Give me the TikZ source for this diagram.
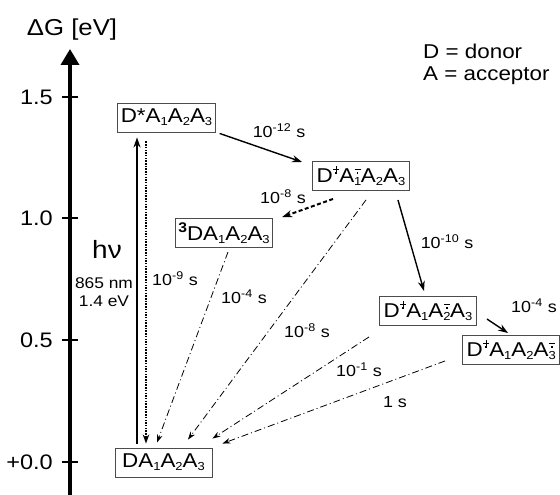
\documentclass[tikz,border=0pt]{standalone}
\usepackage{fontspec}
\setmainfont{Liberation Sans}[FakeStretch=1.12]
\usetikzlibrary{arrows.meta,calc}
\newcommand\sub[1]{\raisebox{-0.28ex}{\scalebox{0.58}{#1}}}
\newcommand\plusr{\makebox[0pt]{\rule{0.3em}{0.055em}}\makebox[0pt]{\rule[-0.12em]{0.055em}{0.3em}}}
\newcommand\minusr{\makebox[0pt]{\rule{0.3em}{0.055em}}}
\newcommand\radsym[1]{\makebox[0.32em]{\makebox[0pt]{\raisebox{0.2em}{#1}}\makebox[0pt]{\rule{0.085em}{0.085em}}}}
\newcommand\rad[1]{\raisebox{0.45em}{\radsym{#1}}}
\newcommand\subsup[2]{\makebox[0.34em][l]{\raisebox{-0.28ex}{\scalebox{0.58}{#1}}}\hspace*{-0.34em}\makebox[0.34em]{\raisebox{0.45em}{\radsym{#2}}}}
\begin{document}
\begin{tikzpicture}[x=1pt,y=-1pt,
  state/.style={draw=black!70, line width=0.9pt, inner xsep=3pt, inner ysep=0pt,
    minimum height=29pt, minimum width=97pt, font=\fontsize{20}{22}\selectfont},
  lbl/.style={inner sep=0pt, font=\fontsize{16}{18}\selectfont},
  ticklbl/.style={inner sep=0pt, anchor=east, font=\fontsize{21}{23}\selectfont},
  axisline/.style={line width=3.6pt, -{Triangle[width=18pt,length=16pt]}},
  tickline/.style={line width=2pt},
  solidarr/.style={line width=1.4pt, -{Stealth[length=10pt,width=7pt]}},
  dotarr/.style={line width=2pt, dash pattern=on 1.5pt off 1.2pt, -{Stealth[length=9pt,width=6.5pt]}},
  dasharr/.style={line width=2pt, dash pattern=on 4pt off 2.5pt, -{Stealth[length=10pt,width=7pt]}},
  dotdash/.style={line width=0.8pt, dash pattern=on 7pt off 3pt on 1pt off 3pt, -{Stealth[length=8pt,width=5.5pt]}}
]
\useasboundingbox (0,0) rectangle (560,495);

% axis
\coordinate (axbot) at (70,495);
\coordinate (axtop) at (70,49);
\draw[axisline] (axbot) -- (axtop);
\node[inner sep=0pt, font=\fontsize{23}{25}\selectfont] (axlabel) at (72,30) {ΔG [eV]};
\foreach \yy/\tx/\nm in {97/1.5/t15, 218/1.0/t10, 340/0.5/t05, 462/+0.0/t00}{
  \draw[tickline] (62,\yy) -- (78,\yy);
  \node[ticklbl] (\nm) at (53,\yy) {\tx};
}

% legend
\node[inner sep=0pt, anchor=west, font=\fontsize{20}{22}\selectfont] (leg1) at (423,51) {D = donor};
\node[inner sep=0pt, anchor=west, font=\fontsize{20}{22}\selectfont] (leg2) at (423,76) {A = acceptor};

% states
\node[state] (DS) at (166.5,117.5) {D*A\sub{1}A\sub{2}A\sub{3}};
\node[state] (DA1m) at (361,176) {D\rad{\plusr}A\subsup{1}{\minusr}A\sub{2}A\sub{3}};
\node[state] (T) at (224,233) {\raisebox{0.75ex}{\scalebox{0.7}{\textbf{3}}}DA\sub{1}A\sub{2}A\sub{3}};
\node[state] (DA2m) at (428,311) {D\rad{\plusr}A\sub{1}A\subsup{2}{\minusr}A\sub{3}};
\node[state] (DA3m) at (511,350) {D\rad{\plusr}A\sub{1}A\sub{2}A\subsup{3}{\minusr}};
\node[state] (GS) at (163.5,462.5) {DA\sub{1}A\sub{2}A\sub{3}};

% excitation and labels
\node[inner sep=0pt, font=\fontsize{25}{27}\selectfont] (hv) at (107,249) {hν};
\node[inner sep=0pt, align=center, font=\fontsize{15.5}{18}\selectfont] (ex) at (104,292) {865 nm\\1.4 eV};

\draw[solidarr] ($(GS.north)+(-26.5,-4)$) -- ($(DS.south)+(-29.5,5)$);
\draw[dotarr] ($(DS.south)+(-20.5,9)$) -- ($(GS.north)+(-17.5,-4)$);

\draw[solidarr] ($(DS.south east)+(4,1)$) -- ($(DA1m.west)+(-10,-14)$);
\draw[dasharr] ($(DA1m.south west)+(21,8)$) -- ($(T.north east)+(9,-1)$);
\draw[solidarr] ($(DA1m.south east)+(-12,9)$) -- ($(DA2m.north)+(-4,-5)$);
\draw[solidarr] ($(DA2m.east)+(10,8)$) -- ($(DA3m.north west)+(46,-2)$);

\draw[dotdash] ($(T.south)+(4,4)$) -- ($(GS.north)+(-6.5,-5)$);
\draw[dotdash] ($(DA1m.south)+(5,9)$) -- ($(GS.north)+(24.5,-8)$);
\draw[dotdash] ($(DA2m.south west)+(-10,11)$) -- ($(GS.north east)+(0,-9)$);
\draw[dotdash] ($(DA3m.south west)+(-17,-4)$) -- ($(GS.north east)+(10,-4)$);

% time constants
\node[lbl] (k12) at (279,131) {10\textsuperscript{-12} s};
\node[lbl] (k8a) at (283,197) {10\textsuperscript{-8} s};
\node[lbl] (k10) at (447,242) {10\textsuperscript{-10} s};
\node[lbl] (k9) at (175,279) {10\textsuperscript{-9} s};
\node[lbl] (k4a) at (244,297) {10\textsuperscript{-4} s};
\node[lbl] (k8b) at (307,331) {10\textsuperscript{-8} s};
\node[lbl] (k1) at (359,370) {10\textsuperscript{-1} s};
\node[lbl] (k0) at (395,402) {1 s};
\node[lbl] (k4b) at (534,306) {10\textsuperscript{-4} s};
\end{tikzpicture}
\end{document}
